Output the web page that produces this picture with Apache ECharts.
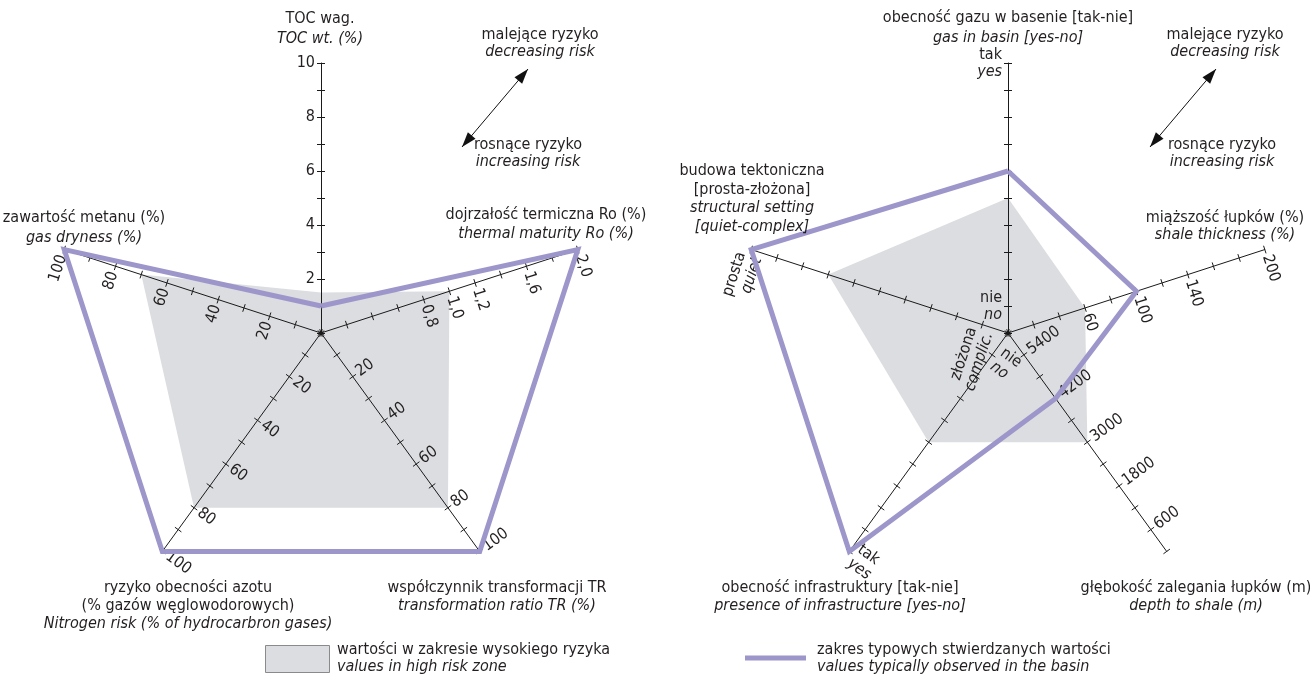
<!DOCTYPE html>
<html>
<head>
<meta charset="utf-8">
<script src="https://cdn.jsdelivr.net/npm/echarts@6/dist/echarts.min.js"></script>
<style>
  html, body { margin: 0; padding: 0; background: #ffffff; }
  #chart { width: 1310px; height: 677px; }
</style>
</head>
<body>
<div id="chart"></div>
<script>
// ---- data -------------------------------------------------------------
// Radar indicators are listed from the top axis, then counter-clockwise.

// Left diagram: TOC, gas dryness, nitrogen risk, transformation ratio, Ro
const leftAxisMax = [10, 100, 100, 100, 2.0];
const leftTickLabels = [
  [2, 4, 6, 8, 10],
  [20, 40, 60, 80, 100],
  [20, 40, 60, 80, 100],
  [20, 40, 60, 80, 100],
  [0.8, 1.0, 1.2, 1.6, 2.0]
];
const leftObserved = [1, 100, 100, 100, 2.0];
const leftHighRisk = [1.5, 70, 80, 80, 1.0];

// Right diagram: gas in basin, structural setting, infrastructure, depth, shale thickness
// (qualitative axes use ranks 0-10; depth axis runs from 6000 m at the centre to 0 m)
const DEPTH_AT_CENTRE = 6000;
const rightAxisMax = [10, 10, 10, DEPTH_AT_CENTRE, 200];
const gasLabels = [[1, 'nie', 'no'], [10, 'tak', 'yes']];
const structureLabels = [[1, 'złożona', 'complic.'], [10, 'prosta', 'quiet']];
const infraLabels = [[1, 'nie', 'no'], [10, 'tak', 'yes']];
const depthLabels = [5400, 4200, 3000, 1800, 600];
const thicknessLabels = [60, 100, 140, 200];
const rightObserved = [6, 10, 10, 4200, 100];
const rightHighRisk = [5, 7, 5, 3000, 60];

// ---- styles -----------------------------------------------------------
const FONT = '"Liberation Sans Narrow", "DejaVu Sans Condensed", "Roboto Condensed", "Arial Narrow", sans-serif';
const TEXT = '#231f20';
const AXIS = '#1a1a1a';
const PURPLE = '#9d96ca';
const GREY = '#dcdde0';
const FS = 16;

const RICH = {
  n: { fontFamily: FONT, fontSize: FS, color: TEXT, lineHeight: 17 },
  i: { fontFamily: FONT, fontSize: FS, color: TEXT, fontStyle: 'italic', lineHeight: 17 }
};

// label orientation for each axis position (top, upper-left, lower-left, lower-right, upper-right)
const LABEL_ROTATE = [0, 72, -36, 36, -72];

const near = (a, b) => Math.abs(a - b) < 1e-6;

function numberFormatter(list, fmt) {
  return v => (list.some(x => near(x, v)) ? fmt(v) : '');
}
function wordFormatter(list) {
  return v => {
    const hit = list.find(e => near(e[0], v));
    return hit ? '{n|' + hit[1] + '}\n{i|' + hit[2] + '}' : '';
  };
}

function axisLabelFor(idx, formatter) {
  const lab = {
    show: true, rotate: LABEL_ROTATE[idx], formatter: formatter, margin: 6,
    fontFamily: FONT, fontSize: FS, color: TEXT, rich: RICH
  };
  if (idx === 4) {
    // labels on the clockwise side of the upper-right axis
    lab.margin = -6;
    lab.align = 'left';
    lab.verticalAlign = 'middle';
  }
  return lab;
}

const leftFormatters = [
  numberFormatter(leftTickLabels[0], v => String(v)),
  numberFormatter(leftTickLabels[1], v => String(v)),
  numberFormatter(leftTickLabels[2], v => String(v)),
  numberFormatter(leftTickLabels[3], v => String(v)),
  numberFormatter(leftTickLabels[4], v => v.toFixed(1).replace('.', ','))
];
const rightFormatters = [
  wordFormatter(gasLabels),
  wordFormatter(structureLabels),
  wordFormatter(infraLabels),
  v => (depthLabels.some(d => near(DEPTH_AT_CENTRE - d, v)) ? String(Math.round(DEPTH_AT_CENTRE - v)) : ''),
  numberFormatter(thicknessLabels, v => String(v))
];

// layer 0 draws axes, ticks and labels; layer 1 adds the opposite half of each tick
function radarComponent(center, maxList, formatters, layer) {
  return {
    center: center, radius: 270, startAngle: 90, splitNumber: 10, shape: 'polygon',
    z: 2, silent: true,
    axisName: { show: false },
    splitLine: { show: false },
    splitArea: { show: false },
    axisLine: { show: layer === 0, lineStyle: { color: AXIS, width: 1 } },
    axisTick: { show: true, length: layer === 0 ? 4 : -4, lineStyle: { color: AXIS, width: 1 } },
    axisLabel: { show: false },
    indicator: maxList.map((m, i) => ({
      name: '', min: 0, max: m,
      axisLabel: layer === 0 ? axisLabelFor(i, formatters[i]) : { show: false }
    }))
  };
}

const toRightPlot = vals => vals.map((v, i) => (i === 3 ? DEPTH_AT_CENTRE - v : v));

function areaSeries(radarIndex, values) {
  return {
    type: 'radar', radarIndex: radarIndex, z: 1, symbol: 'none', silent: true,
    data: [{ value: values, lineStyle: { width: 0, opacity: 0 }, areaStyle: { color: GREY, opacity: 1 } }]
  };
}
function lineSeries(radarIndex, values) {
  return {
    type: 'radar', radarIndex: radarIndex, z: 3, symbol: 'none', silent: true,
    data: [{ value: values, lineStyle: { color: PURPLE, width: 5, join: 'miter', miterLimit: 20 }, areaStyle: null }]
  };
}

// ---- annotation text ----------------------------------------------------
function txt(x, y, s, italic, align) {
  return {
    type: 'text', x: x, y: y, z: 10, silent: true,
    style: {
      text: s, fontFamily: FONT, fontSize: FS, fill: TEXT,
      fontStyle: italic ? 'italic' : 'normal',
      align: align || 'center', verticalAlign: 'middle'
    }
  };
}
function arrowHead(tip, from) {
  const dx = tip[0] - from[0], dy = tip[1] - from[1];
  const L = Math.hypot(dx, dy), ux = dx / L, uy = dy / L;
  const len = 15, half = 5;
  const bx = tip[0] - ux * len, by = tip[1] - uy * len;
  return { type: 'polygon', z: 10, silent: true,
    shape: { points: [tip, [bx - uy * half, by + ux * half], [bx + uy * half, by - ux * half]] },
    style: { fill: '#111' } };
}
function riskArrow(a, b) {
  return [
    { type: 'line', z: 10, silent: true, shape: { x1: a[0], y1: a[1], x2: b[0], y2: b[1] }, style: { stroke: '#111', lineWidth: 1 } },
    arrowHead(a, b), arrowHead(b, a)
  ];
}

const graphics = [
  // left diagram
  txt(320, 19, 'TOC wag.'), txt(320, 39, 'TOC wt. (%)', true),
  txt(540, 35, 'malejące ryzyko'), txt(540, 52, 'decreasing risk', true),
  txt(528, 145, 'rosnące ryzyko'), txt(528, 162, 'increasing risk', true),
  ...riskArrow([462, 147], [528, 69]),
  txt(84, 218, 'zawartość metanu (%)'), txt(84, 238, 'gas dryness (%)', true),
  txt(546, 215, 'dojrzałość termiczna Ro (%)'), txt(546, 234, 'thermal maturity Ro (%)', true),
  txt(188, 588, 'ryzyko obecności azotu'), txt(188, 606, '(% gazów węglowodorowych)'),
  txt(188, 624, 'Nitrogen risk (% of hydrocarbron gases)', true),
  txt(497, 588, 'współczynnik transformacji TR'), txt(497, 606, 'transformation ratio TR (%)', true),
  { type: 'rect', z: 10, silent: true, shape: { x: 265.5, y: 645.5, width: 64, height: 27 },
    style: { fill: GREY, stroke: '#8a8a8a', lineWidth: 1 } },
  txt(337, 650, 'wartości w zakresie wysokiego ryzyka', false, 'left'),
  txt(337, 667, 'values in high risk zone', true, 'left'),

  // right diagram
  txt(1008, 18, 'obecność gazu w basenie [tak-nie]'), txt(1008, 38, 'gas in basin [yes-no]', true),
  txt(1225, 35, 'malejące ryzyko'), txt(1225, 52, 'decreasing risk', true),
  txt(1222, 145, 'rosnące ryzyko'), txt(1222, 162, 'increasing risk', true),
  ...riskArrow([1150, 147], [1216, 69]),
  txt(752, 171, 'budowa tektoniczna'), txt(752, 190, '[prosta-złożona]'),
  txt(752, 208, 'structural setting', true), txt(752, 227, '[quiet-complex]', true),
  txt(1225, 218, 'miąższość łupków (%)'), txt(1225, 235, 'shale thickness (%)', true),
  txt(840, 588, 'obecność infrastruktury [tak-nie]'), txt(840, 606, 'presence of infrastructure [yes-no]', true),
  txt(1196, 588, 'głębokość zalegania łupków (m)'), txt(1196, 606, 'depth to shale (m)', true),
  { type: 'line', z: 10, silent: true, shape: { x1: 745, y1: 658, x2: 806, y2: 658 },
    style: { stroke: PURPLE, lineWidth: 5 } },
  txt(817, 650, 'zakres typowych stwierdzanych wartości', false, 'left'),
  txt(817, 667, 'values typically observed in the basin', true, 'left')
];

const chart = echarts.init(document.getElementById('chart'));
chart.setOption({
  animation: false,
  backgroundColor: '#ffffff',
  textStyle: { fontFamily: FONT },
  radar: [
    radarComponent([321, 333], leftAxisMax, leftFormatters, 0),
    radarComponent([1008, 333], rightAxisMax, rightFormatters, 0),
    radarComponent([321, 333], leftAxisMax, leftFormatters, 1),
    radarComponent([1008, 333], rightAxisMax, rightFormatters, 1)
  ],
  series: [
    areaSeries(0, leftHighRisk),
    lineSeries(0, leftObserved),
    areaSeries(1, toRightPlot(rightHighRisk)),
    lineSeries(1, toRightPlot(rightObserved))
  ],
  graphic: graphics
});
</script>
</body>
</html>
